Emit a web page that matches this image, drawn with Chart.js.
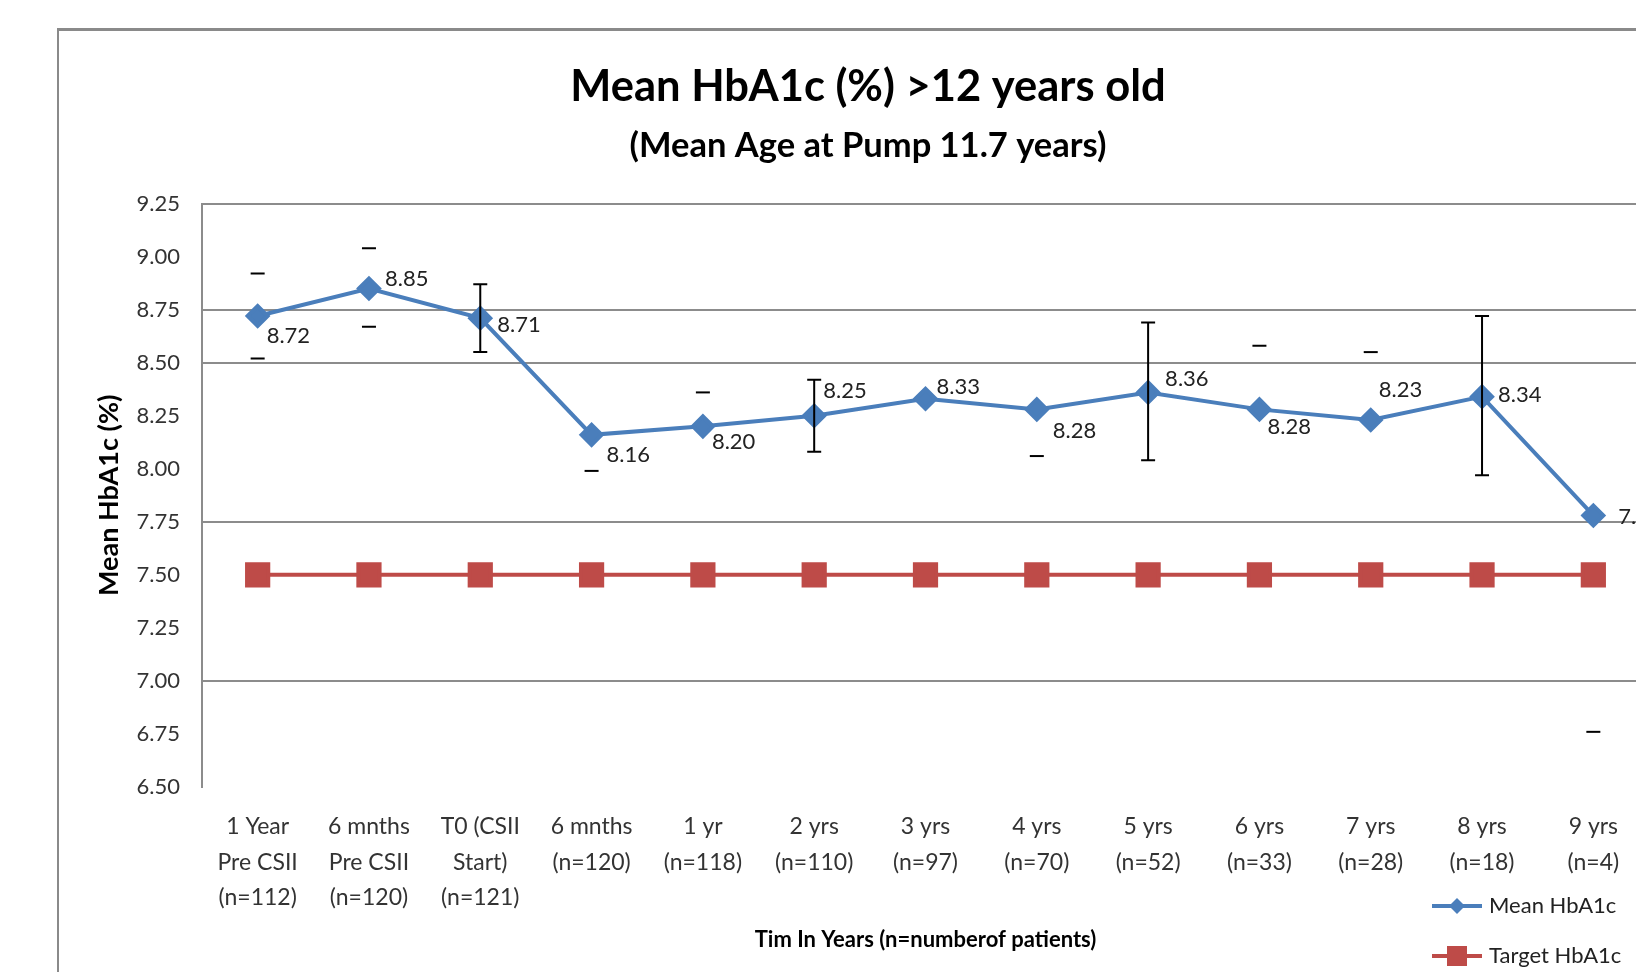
<!DOCTYPE html>
<html>
<head>
<meta charset="utf-8">
<title>Mean HbA1c (%) &gt;12 years old</title>
<script src="https://cdn.jsdelivr.net/npm/chart.js@4.4.0/dist/chart.umd.min.js"></script>
<style>
  html, body { margin: 0; padding: 0; background: #fff; overflow: hidden; }
  .frame {
    position: absolute; left: 57px; top: 28px; width: 2000px; height: 2000px;
    border-top: 3px solid #8a8a8a; border-left: 2px solid #8a8a8a;
  }
  .chart-box { position: absolute; left: 0; top: 0; width: 1700px; height: 972px; }
</style>
</head>
<body>
<div class="frame"></div>
<div class="chart-box"><canvas id="hba1cChart"></canvas></div>
<script>
const categories = [
  ['1 Year', 'Pre CSII', '(n=112)'],
  ['6 mnths', 'Pre CSII', '(n=120)'],
  ['T0 (CSII', 'Start)', '(n=121)'],
  ['6 mnths', '(n=120)'],
  ['1 yr', '(n=118)'],
  ['2 yrs', '(n=110)'],
  ['3 yrs', '(n=97)'],
  ['4 yrs', '(n=70)'],
  ['5 yrs', '(n=52)'],
  ['6 yrs', '(n=33)'],
  ['7 yrs', '(n=28)'],
  ['8 yrs', '(n=18)'],
  ['9 yrs', '(n=4)']
];
const meanHbA1c = [8.72, 8.85, 8.71, 8.16, 8.20, 8.25, 8.33, 8.28, 8.36, 8.28, 8.23, 8.34, 7.78];
const targetHbA1c = [7.5, 7.5, 7.5, 7.5, 7.5, 7.5, 7.5, 7.5, 7.5, 7.5, 7.5, 7.5, 7.5];

// error bar ends that show in the picture (null = not visible)
const errHigh = [8.92, 9.04, 8.87, null, 8.36, 8.42, null, null, 8.69, 8.58, 8.55, 8.72, null];
const errLow = [8.52, 8.67, 8.55, 7.99, null, 8.08, null, 8.06, 8.04, null, null, 7.97, 6.76];
const errStem = [false, false, true, false, false, true, false, false, true, false, false, true, false];

const yTickValues = [6.5, 6.75, 7.0, 7.25, 7.5, 7.75, 8.0, 8.25, 8.5, 8.75, 9.0, 9.25];
const yGridShown = [7.0, 7.75, 8.5, 8.75, 9.25];

// label placement next to each blue point (px)
const labelDx = [9, 16, 17, 15, 9, 9, 11, 16, 17, 8, 8, 16, 25];
const labelDy = [20, -10, 7, 20, 16, -25, -12, 22, -14, 18, -30, -2, 1];

const FONT = 'Lato, "Open Sans", sans-serif';
const BLUE = '#4A7EBB';
const RED = '#BE4B48';

const errorBars = {
  id: 'errorBars',
  afterDatasetsDraw(chart) {
    const ctx = chart.ctx;
    const y = chart.scales.y;
    const pts = chart.getDatasetMeta(0).data;
    ctx.save();
    ctx.strokeStyle = '#000';
    ctx.lineWidth = 2;
    pts.forEach((p, i) => {
      const hi = errHigh[i] == null ? null : y.getPixelForValue(errHigh[i]);
      const lo = errLow[i] == null ? null : y.getPixelForValue(errLow[i]);
      ctx.beginPath();
      if (errStem[i]) {
        ctx.moveTo(p.x, hi == null ? p.y : hi);
        ctx.lineTo(p.x, lo == null ? p.y : lo);
      }
      if (hi != null) { ctx.moveTo(p.x - 7, hi); ctx.lineTo(p.x + 7, hi); }
      if (lo != null) { ctx.moveTo(p.x - 7, lo); ctx.lineTo(p.x + 7, lo); }
      ctx.stroke();
    });
    ctx.restore();
  }
};

const valueLabels = {
  id: 'valueLabels',
  afterDatasetsDraw(chart) {
    const ctx = chart.ctx;
    const pts = chart.getDatasetMeta(0).data;
    ctx.save();
    ctx.font = '22px ' + FONT;
    ctx.fillStyle = '#222';
    ctx.textAlign = 'left';
    ctx.textBaseline = 'middle';
    pts.forEach((p, i) => {
      ctx.fillText(meanHbA1c[i].toFixed(2), p.x + labelDx[i], p.y + labelDy[i]);
    });
    ctx.restore();
  }
};

const sideLegend = {
  id: 'sideLegend',
  afterDraw(chart) {
    const ctx = chart.ctx;
    const area = chart.chartArea;
    const x0 = area.right - 217;
    const items = [
      { text: 'Mean HbA1c', color: BLUE, shape: 'diamond', y: area.bottom + 119 },
      { text: 'Target HbA1c', color: RED, shape: 'square', y: area.bottom + 169 }
    ];
    ctx.save();
    items.forEach(it => {
      ctx.strokeStyle = it.color;
      ctx.fillStyle = it.color;
      ctx.lineWidth = 4;
      ctx.beginPath();
      ctx.moveTo(x0, it.y);
      ctx.lineTo(x0 + 50, it.y);
      ctx.stroke();
      const cx = x0 + 25;
      ctx.beginPath();
      if (it.shape === 'diamond') {
        ctx.moveTo(cx, it.y - 8); ctx.lineTo(cx + 8, it.y);
        ctx.lineTo(cx, it.y + 8); ctx.lineTo(cx - 8, it.y);
        ctx.closePath();
      } else {
        ctx.rect(cx - 10, it.y - 10, 20, 20);
      }
      ctx.fill();
      ctx.fillStyle = '#222';
      ctx.font = '22px ' + FONT;
      ctx.textAlign = 'left';
      ctx.textBaseline = 'middle';
      ctx.fillText(it.text, x0 + 57, it.y);
    });
    ctx.restore();
  }
};

new Chart(document.getElementById('hba1cChart'), {
  type: 'line',
  data: {
    labels: categories,
    datasets: [
      {
        label: 'Mean HbA1c',
        data: meanHbA1c,
        borderColor: BLUE,
        backgroundColor: BLUE,
        borderWidth: 4,
        pointStyle: 'rectRot',
        pointRadius: 10,
        pointHoverRadius: 10,
        tension: 0
      },
      {
        label: 'Target HbA1c',
        data: targetHbA1c,
        borderColor: RED,
        backgroundColor: RED,
        borderWidth: 4,
        pointStyle: 'rect',
        pointRadius: 15,
        pointHoverRadius: 15,
        tension: 0
      }
    ]
  },
  options: {
    responsive: true,
    maintainAspectRatio: false,
    animation: false,
    clip: false,
    layout: { padding: { left: 87, right: 51, top: 0, bottom: 0 } },
    plugins: {
      legend: { display: false },
      tooltip: { enabled: false },
      title: {
        display: true,
        text: 'Mean HbA1c (%) >12 years old',
        color: '#000',
        font: { family: FONT, size: 43.5, weight: 'bold', lineHeight: 1.2 },
        padding: { top: 61, bottom: 6 }
      },
      subtitle: {
        display: true,
        text: '(Mean Age at Pump 11.7 years)',
        color: '#000',
        font: { family: FONT, size: 34.5, weight: 'bold', lineHeight: 1.2 },
        padding: { top: 6, bottom: 37 }
      }
    },
    scales: {
      x: {
        type: 'category',
        offset: true,
        grid: { display: false },
        border: { display: false },
        ticks: {
          color: '#333',
          autoSkip: false,
          maxRotation: 0,
          padding: 14,
          font: { family: FONT, size: 23, lineHeight: 1.54 }
        },
        title: {
          display: true,
          text: 'Tim In Years (n=numberof patients)',
          color: '#000',
          font: { family: FONT, size: 22, weight: 'bold', lineHeight: 1.2 },
          padding: { top: 10, bottom: 19 }
        },
        afterFit(scale) { scale.height = 185; }
      },
      y: {
        min: 6.5,
        max: 9.25,
        afterBuildTicks(scale) {
          scale.ticks = yTickValues.map(v => ({ value: v }));
        },
        grid: {
          drawTicks: false,
          lineWidth: 2,
          color: c => (c.tick && yGridShown.includes(c.tick.value)) ? '#8c8c8c' : 'rgba(0,0,0,0)'
        },
        border: { display: true, color: '#8c8c8c', width: 2 },
        ticks: {
          color: '#333',
          padding: 22,
          font: { family: FONT, size: 22 },
          callback: v => Number(v).toFixed(2)
        },
        title: {
          display: true,
          text: 'Mean HbA1c (%)',
          color: '#000',
          font: { family: FONT, size: 27, weight: 'bold', lineHeight: 1.2 },
          padding: { top: 6, bottom: 4 }
        },
        afterFit(scale) { scale.width = 115; }
      }
    }
  },
  plugins: [errorBars, valueLabels, sideLegend]
});
</script>
</body>
</html>
